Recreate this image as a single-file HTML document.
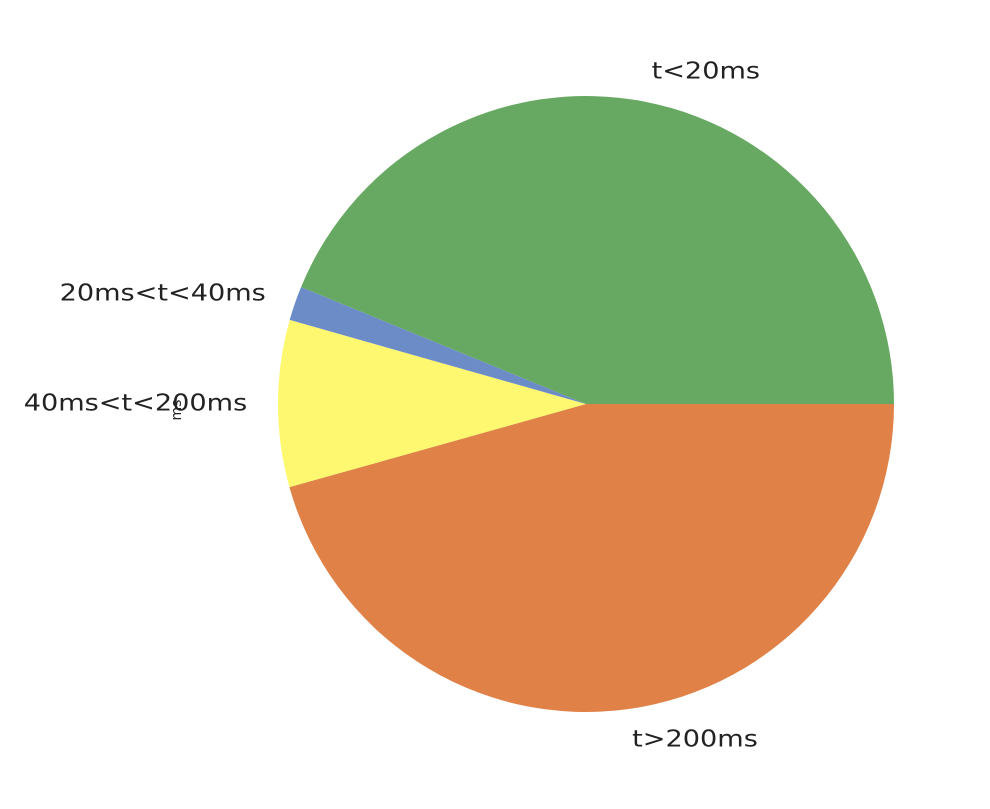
<!DOCTYPE html>
<html><head><meta charset="utf-8"><style>
body{margin:0;background:#fff;}
svg text{font-family:"DejaVu Sans","Liberation Sans",sans-serif;font-size:23px;fill:#222;}
</style></head><body>
<svg id="chart" width="990" height="804" viewBox="0 0 990 804">
<text x="0" y="0" transform="translate(181,410) rotate(-90)" text-anchor="middle" style="font-size:14px">ms</text>
</svg>
<script>
const categories=["t<20ms","20ms<t<40ms","40ms<t<200ms","t>200ms"];
const values=[43.8,1.8,8.75,45.65];
const colors=["#67a962","#6b8cc7","#fdf86f","#e08147"];
const cx=586,cy=404,R=308;
const svg=document.getElementById('chart');
const NS="http://www.w3.org/2000/svg";
const total=values.reduce((a,b)=>a+b,0);
let a0=0;
values.forEach((v,i)=>{
  const a1=a0+v/total*2*Math.PI;
  const x0=cx+R*Math.cos(a0),y0=cy-R*Math.sin(a0),x1=cx+R*Math.cos(a1),y1=cy-R*Math.sin(a1);
  const large=(a1-a0)>Math.PI?1:0;
  const p=document.createElementNS(NS,'path');
  p.setAttribute('d',`M${cx},${cy} L${x0},${y0} A${R},${R} 0 ${large} 0 ${x1},${y1} Z`);
  p.setAttribute('fill',colors[i]);
  
  
  svg.insertBefore(p,svg.firstChild);
  const am=(a0+a1)/2;
  const lx=cx+R*1.1*Math.cos(am),ly=cy-R*1.1*Math.sin(am);
  const t=document.createElementNS(NS,'text');
  t.setAttribute('x',0);t.setAttribute('y',0);
  t.setAttribute('transform',`translate(${lx},${ly+7}) scale(1.18,1)`);
  t.setAttribute('text-anchor',lx>=cx?'start':'end');
  t.textContent=categories[i];
  
  
  svg.appendChild(t);
  a0=a1;
});
</script>
</body></html>
